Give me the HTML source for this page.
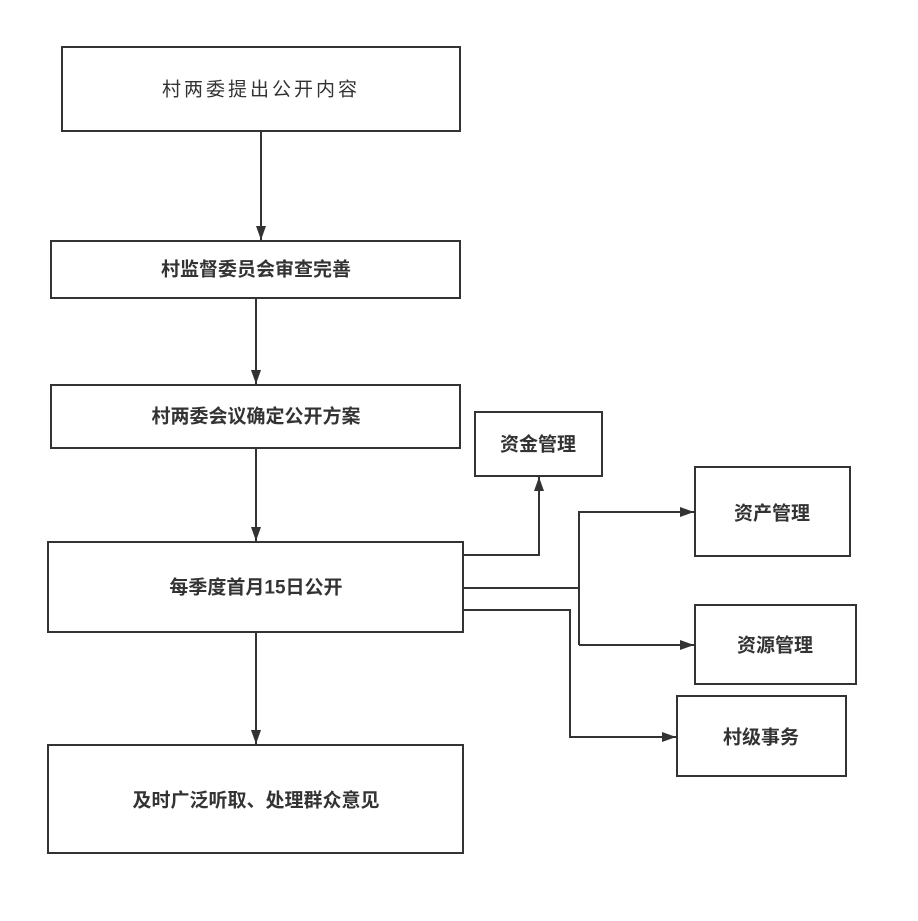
<!DOCTYPE html>
<html><head><meta charset="utf-8"><style>
html,body{margin:0;padding:0;background:#fff;}
svg text{font-family:"Liberation Sans","Noto Sans CJK SC",sans-serif;fill:#333;text-anchor:middle;dominant-baseline:central;}
</style></head><body>
<svg width="918" height="916" viewBox="0 0 918 916" xmlns="http://www.w3.org/2000/svg">
<defs><marker id="a" markerWidth="15" markerHeight="12" refX="14" refY="6" orient="auto" markerUnits="userSpaceOnUse"><path d="M0,1 L14,6 L0,11 z" fill="#333"/></marker></defs>
<g fill="#fff" stroke="#333" stroke-width="2">
<rect x="62" y="47" width="398" height="84"/>
<rect x="51" y="241" width="409" height="57"/>
<rect x="51" y="385" width="409" height="63"/>
<rect x="48" y="542" width="415" height="90"/>
<rect x="48" y="745" width="415" height="108"/>
<rect x="475" y="412" width="127" height="64"/>
<rect x="695" y="467" width="155" height="89"/>
<rect x="695" y="605" width="161" height="79"/>
<rect x="677" y="696" width="169" height="80"/>
</g>
<g fill="none" stroke="#333" stroke-width="2">
<line x1="261" y1="131" x2="261" y2="240" marker-end="url(#a)"/>
<line x1="256" y1="298" x2="256" y2="384" marker-end="url(#a)"/>
<line x1="256" y1="448" x2="256" y2="541" marker-end="url(#a)"/>
<line x1="256" y1="632" x2="256" y2="744" marker-end="url(#a)"/>
<polyline points="463,555 539,555 539,477" marker-end="url(#a)"/>
<line x1="463" y1="588" x2="579" y2="588"/>
<polyline points="579,645 579,512 694,512" marker-end="url(#a)"/>
<line x1="579" y1="645" x2="694" y2="645" marker-end="url(#a)"/>
<polyline points="463,610 570,610 570,737 676,737" marker-end="url(#a)"/>
</g>
<text x="261" y="90" font-size="19" letter-spacing="3">村两委提出公开内容</text>
<g font-weight="bold" font-size="19">
<text x="256" y="270">村监督委员会审查完善</text>
<text x="256" y="417">村两委会议确定公开方案</text>
<text x="256" y="588">每季度首月15日公开</text>
<text x="256" y="801">及时广泛听取、处理群众意见</text>
<text x="538" y="445">资金管理</text>
<text x="772" y="514">资产管理</text>
<text x="775" y="646">资源管理</text>
<text x="761" y="738">村级事务</text>
</g>
</svg>
</body></html>
